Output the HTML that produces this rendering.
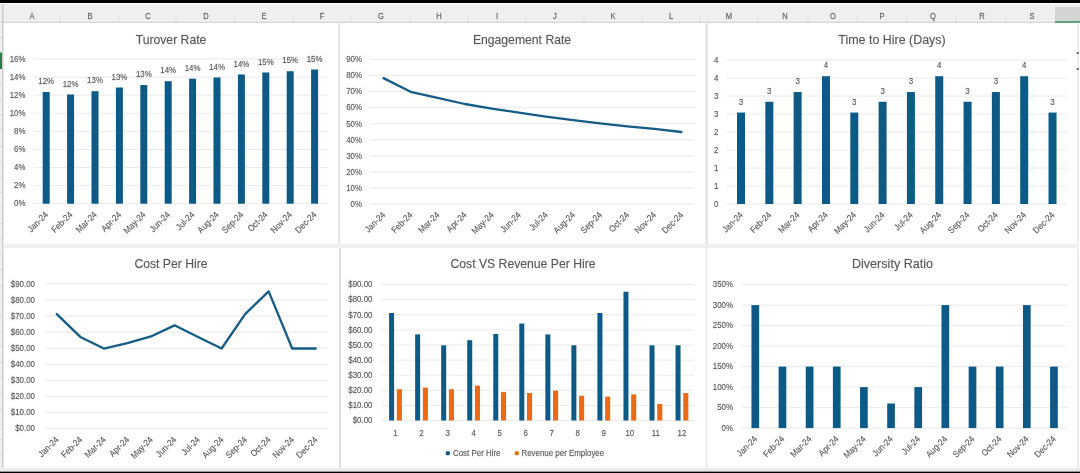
<!DOCTYPE html>
<html lang="en">
<head>
<meta charset="utf-8">
<title>HR Dashboard</title>
<style>
html,body{margin:0;padding:0;background:#fff;}
body{width:1080px;height:473px;overflow:hidden;font-family:"Liberation Sans",sans-serif;}
svg{display:block;}
svg text{stroke:#5a5a5a;stroke-width:.3px;stroke-opacity:.5;}
</style>
</head>
<body>
<svg width="1080" height="473" viewBox="0 0 1080 473" font-family="'Liberation Sans', sans-serif">
<rect x="0" y="0" width="1080" height="473" fill="#ffffff"/>
<defs><filter id="soft" x="0" y="0" width="1080" height="473" filterUnits="userSpaceOnUse"><feGaussianBlur stdDeviation="0.55"/></filter></defs>
<g filter="url(#soft)">
<rect x="0" y="3.8" width="1080" height="18.7" fill="#efefef"/>
<rect x="1055" y="7" width="25" height="14" fill="#d3d5d3"/>
<rect x="1055" y="21" width="25" height="2" fill="#62a07c"/>
<line x1="0" y1="22.3" x2="1055" y2="22.3" stroke="#cfcfcf" stroke-width="1"/>
<text transform="translate(32 19.4) scale(0.86 1)" font-size="8.8" text-anchor="middle" fill="#5e5e5e">A</text>
<text transform="translate(90 19.4) scale(0.86 1)" font-size="8.8" text-anchor="middle" fill="#5e5e5e">B</text>
<text transform="translate(148 19.4) scale(0.86 1)" font-size="8.8" text-anchor="middle" fill="#5e5e5e">C</text>
<text transform="translate(206 19.4) scale(0.86 1)" font-size="8.8" text-anchor="middle" fill="#5e5e5e">D</text>
<text transform="translate(264 19.4) scale(0.86 1)" font-size="8.8" text-anchor="middle" fill="#5e5e5e">E</text>
<text transform="translate(322 19.4) scale(0.86 1)" font-size="8.8" text-anchor="middle" fill="#5e5e5e">F</text>
<text transform="translate(381 19.4) scale(0.86 1)" font-size="8.8" text-anchor="middle" fill="#5e5e5e">G</text>
<text transform="translate(439 19.4) scale(0.86 1)" font-size="8.8" text-anchor="middle" fill="#5e5e5e">H</text>
<text transform="translate(497 19.4) scale(0.86 1)" font-size="8.8" text-anchor="middle" fill="#5e5e5e">I</text>
<text transform="translate(555 19.4) scale(0.86 1)" font-size="8.8" text-anchor="middle" fill="#5e5e5e">J</text>
<text transform="translate(613 19.4) scale(0.86 1)" font-size="8.8" text-anchor="middle" fill="#5e5e5e">K</text>
<text transform="translate(671 19.4) scale(0.86 1)" font-size="8.8" text-anchor="middle" fill="#5e5e5e">L</text>
<text transform="translate(729 19.4) scale(0.86 1)" font-size="8.8" text-anchor="middle" fill="#5e5e5e">M</text>
<text transform="translate(785 19.4) scale(0.86 1)" font-size="8.8" text-anchor="middle" fill="#5e5e5e">N</text>
<text transform="translate(833 19.4) scale(0.86 1)" font-size="8.8" text-anchor="middle" fill="#5e5e5e">O</text>
<text transform="translate(882 19.4) scale(0.86 1)" font-size="8.8" text-anchor="middle" fill="#5e5e5e">P</text>
<text transform="translate(933 19.4) scale(0.86 1)" font-size="8.8" text-anchor="middle" fill="#5e5e5e">Q</text>
<text transform="translate(982 19.4) scale(0.86 1)" font-size="8.8" text-anchor="middle" fill="#5e5e5e">R</text>
<text transform="translate(1032 19.4) scale(0.86 1)" font-size="8.8" text-anchor="middle" fill="#5e5e5e">S</text>
<line x1="60" y1="16.5" x2="60" y2="22.5" stroke="#dcdcdc" stroke-width="1"/>
<line x1="119" y1="16.5" x2="119" y2="22.5" stroke="#dcdcdc" stroke-width="1"/>
<line x1="176" y1="16.5" x2="176" y2="22.5" stroke="#dcdcdc" stroke-width="1"/>
<line x1="235" y1="16.5" x2="235" y2="22.5" stroke="#dcdcdc" stroke-width="1"/>
<line x1="293" y1="16.5" x2="293" y2="22.5" stroke="#dcdcdc" stroke-width="1"/>
<line x1="351" y1="16.5" x2="351" y2="22.5" stroke="#dcdcdc" stroke-width="1"/>
<line x1="410" y1="16.5" x2="410" y2="22.5" stroke="#dcdcdc" stroke-width="1"/>
<line x1="468" y1="16.5" x2="468" y2="22.5" stroke="#dcdcdc" stroke-width="1"/>
<line x1="526" y1="16.5" x2="526" y2="22.5" stroke="#dcdcdc" stroke-width="1"/>
<line x1="584" y1="16.5" x2="584" y2="22.5" stroke="#dcdcdc" stroke-width="1"/>
<line x1="642" y1="16.5" x2="642" y2="22.5" stroke="#dcdcdc" stroke-width="1"/>
<line x1="700" y1="16.5" x2="700" y2="22.5" stroke="#dcdcdc" stroke-width="1"/>
<line x1="758" y1="16.5" x2="758" y2="22.5" stroke="#dcdcdc" stroke-width="1"/>
<line x1="808" y1="16.5" x2="808" y2="22.5" stroke="#dcdcdc" stroke-width="1"/>
<line x1="857" y1="16.5" x2="857" y2="22.5" stroke="#dcdcdc" stroke-width="1"/>
<line x1="907" y1="16.5" x2="907" y2="22.5" stroke="#dcdcdc" stroke-width="1"/>
<line x1="956" y1="16.5" x2="956" y2="22.5" stroke="#dcdcdc" stroke-width="1"/>
<line x1="1006" y1="16.5" x2="1006" y2="22.5" stroke="#dcdcdc" stroke-width="1"/>
<rect x="0" y="22.5" width="2.6" height="448" fill="#f0f0f0"/>
<line x1="2.8" y1="3.8" x2="2.8" y2="468" stroke="#b8b8b8" stroke-width="1"/>
<line x1="0" y1="37.95" x2="2.4" y2="37.95" stroke="#d9d9d9" stroke-width="0.8"/>
<line x1="0" y1="53.4" x2="2.4" y2="53.4" stroke="#d9d9d9" stroke-width="0.8"/>
<line x1="0" y1="68.85" x2="2.4" y2="68.85" stroke="#d9d9d9" stroke-width="0.8"/>
<line x1="0" y1="84.3" x2="2.4" y2="84.3" stroke="#d9d9d9" stroke-width="0.8"/>
<line x1="0" y1="99.75" x2="2.4" y2="99.75" stroke="#d9d9d9" stroke-width="0.8"/>
<line x1="0" y1="115.2" x2="2.4" y2="115.2" stroke="#d9d9d9" stroke-width="0.8"/>
<line x1="0" y1="130.65" x2="2.4" y2="130.65" stroke="#d9d9d9" stroke-width="0.8"/>
<line x1="0" y1="146.1" x2="2.4" y2="146.1" stroke="#d9d9d9" stroke-width="0.8"/>
<line x1="0" y1="161.55" x2="2.4" y2="161.55" stroke="#d9d9d9" stroke-width="0.8"/>
<line x1="0" y1="177" x2="2.4" y2="177" stroke="#d9d9d9" stroke-width="0.8"/>
<line x1="0" y1="192.45" x2="2.4" y2="192.45" stroke="#d9d9d9" stroke-width="0.8"/>
<line x1="0" y1="207.9" x2="2.4" y2="207.9" stroke="#d9d9d9" stroke-width="0.8"/>
<line x1="0" y1="223.35" x2="2.4" y2="223.35" stroke="#d9d9d9" stroke-width="0.8"/>
<line x1="0" y1="238.8" x2="2.4" y2="238.8" stroke="#d9d9d9" stroke-width="0.8"/>
<line x1="0" y1="254.25" x2="2.4" y2="254.25" stroke="#d9d9d9" stroke-width="0.8"/>
<line x1="0" y1="269.7" x2="2.4" y2="269.7" stroke="#d9d9d9" stroke-width="0.8"/>
<line x1="0" y1="285.15" x2="2.4" y2="285.15" stroke="#d9d9d9" stroke-width="0.8"/>
<line x1="0" y1="300.6" x2="2.4" y2="300.6" stroke="#d9d9d9" stroke-width="0.8"/>
<line x1="0" y1="316.05" x2="2.4" y2="316.05" stroke="#d9d9d9" stroke-width="0.8"/>
<line x1="0" y1="331.5" x2="2.4" y2="331.5" stroke="#d9d9d9" stroke-width="0.8"/>
<line x1="0" y1="346.95" x2="2.4" y2="346.95" stroke="#d9d9d9" stroke-width="0.8"/>
<line x1="0" y1="362.4" x2="2.4" y2="362.4" stroke="#d9d9d9" stroke-width="0.8"/>
<line x1="0" y1="377.85" x2="2.4" y2="377.85" stroke="#d9d9d9" stroke-width="0.8"/>
<line x1="0" y1="393.3" x2="2.4" y2="393.3" stroke="#d9d9d9" stroke-width="0.8"/>
<line x1="0" y1="408.75" x2="2.4" y2="408.75" stroke="#d9d9d9" stroke-width="0.8"/>
<line x1="0" y1="424.2" x2="2.4" y2="424.2" stroke="#d9d9d9" stroke-width="0.8"/>
<line x1="0" y1="439.65" x2="2.4" y2="439.65" stroke="#d9d9d9" stroke-width="0.8"/>
<line x1="0" y1="455.1" x2="2.4" y2="455.1" stroke="#d9d9d9" stroke-width="0.8"/>
<rect x="0" y="52.5" width="2" height="16.5" fill="#2f7d50"/>
<rect x="338.3" y="22.5" width="1.5" height="221.5" fill="#dadada"/>
<rect x="339.4" y="248" width="1.5" height="220" fill="#d6d6d6"/>
<rect x="705.6" y="22.5" width="2.2" height="221.5" fill="#e2e2e2"/>
<rect x="705.6" y="248" width="1.8" height="220" fill="#e9e9e9"/>
<line x1="1078" y1="22.5" x2="1078" y2="470" stroke="#d8d8d8" stroke-width="1"/>
<rect x="3.3" y="243.6" width="1075" height="4.5" fill="#f0f0f0"/>
<rect x="0" y="467.8" width="1080" height="3.2" fill="#ebebeb"/>
<rect x="1076.5" y="52" width="2.5" height="2" fill="#777"/>
<rect x="1076.5" y="68" width="2.5" height="2" fill="#777"/>
<text transform="translate(171 43.8) scale(1 1)" font-size="12.2" text-anchor="middle" fill="#5a5a5a">Turover Rate</text>
<line x1="34" y1="203.7" x2="327.5" y2="203.7" stroke="#eaeaea" stroke-width="1"/>
<text transform="translate(25.5 206.47) scale(0.9 1)" font-size="8.8" text-anchor="end" fill="#5a5a5a">0%</text>
<line x1="34" y1="185.61" x2="327.5" y2="185.61" stroke="#eaeaea" stroke-width="1"/>
<text transform="translate(25.5 188.38) scale(0.9 1)" font-size="8.8" text-anchor="end" fill="#5a5a5a">2%</text>
<line x1="34" y1="167.52" x2="327.5" y2="167.52" stroke="#eaeaea" stroke-width="1"/>
<text transform="translate(25.5 170.29) scale(0.9 1)" font-size="8.8" text-anchor="end" fill="#5a5a5a">4%</text>
<line x1="34" y1="149.43" x2="327.5" y2="149.43" stroke="#eaeaea" stroke-width="1"/>
<text transform="translate(25.5 152.2) scale(0.9 1)" font-size="8.8" text-anchor="end" fill="#5a5a5a">6%</text>
<line x1="34" y1="131.34" x2="327.5" y2="131.34" stroke="#eaeaea" stroke-width="1"/>
<text transform="translate(25.5 134.11) scale(0.9 1)" font-size="8.8" text-anchor="end" fill="#5a5a5a">8%</text>
<line x1="34" y1="113.25" x2="327.5" y2="113.25" stroke="#eaeaea" stroke-width="1"/>
<text transform="translate(25.5 116.02) scale(0.9 1)" font-size="8.8" text-anchor="end" fill="#5a5a5a">10%</text>
<line x1="34" y1="95.16" x2="327.5" y2="95.16" stroke="#eaeaea" stroke-width="1"/>
<text transform="translate(25.5 97.93) scale(0.9 1)" font-size="8.8" text-anchor="end" fill="#5a5a5a">12%</text>
<line x1="34" y1="77.07" x2="327.5" y2="77.07" stroke="#eaeaea" stroke-width="1"/>
<text transform="translate(25.5 79.84) scale(0.9 1)" font-size="8.8" text-anchor="end" fill="#5a5a5a">14%</text>
<line x1="34" y1="58.98" x2="327.5" y2="58.98" stroke="#eaeaea" stroke-width="1"/>
<text transform="translate(25.5 61.75) scale(0.9 1)" font-size="8.8" text-anchor="end" fill="#5a5a5a">16%</text>
<rect x="42.7" y="92" width="7" height="111.7" fill="#0c5a87"/>
<text transform="translate(46.2 84.2) scale(0.9 1)" font-size="8.8" text-anchor="middle" fill="#5a5a5a">12%</text>
<rect x="67.1" y="94.5" width="7" height="109.2" fill="#0c5a87"/>
<text transform="translate(70.6 86.7) scale(0.9 1)" font-size="8.8" text-anchor="middle" fill="#5a5a5a">12%</text>
<rect x="91.5" y="91.2" width="7" height="112.5" fill="#0c5a87"/>
<text transform="translate(95 83.4) scale(0.9 1)" font-size="8.8" text-anchor="middle" fill="#5a5a5a">13%</text>
<rect x="115.9" y="87.5" width="7" height="116.2" fill="#0c5a87"/>
<text transform="translate(119.4 79.7) scale(0.9 1)" font-size="8.8" text-anchor="middle" fill="#5a5a5a">13%</text>
<rect x="140.3" y="85" width="7" height="118.7" fill="#0c5a87"/>
<text transform="translate(143.8 77.2) scale(0.9 1)" font-size="8.8" text-anchor="middle" fill="#5a5a5a">13%</text>
<rect x="164.7" y="81.2" width="7" height="122.5" fill="#0c5a87"/>
<text transform="translate(168.2 73.4) scale(0.9 1)" font-size="8.8" text-anchor="middle" fill="#5a5a5a">14%</text>
<rect x="189.1" y="78.7" width="7" height="125" fill="#0c5a87"/>
<text transform="translate(192.6 70.9) scale(0.9 1)" font-size="8.8" text-anchor="middle" fill="#5a5a5a">14%</text>
<rect x="213.5" y="77.5" width="7" height="126.2" fill="#0c5a87"/>
<text transform="translate(217 69.7) scale(0.9 1)" font-size="8.8" text-anchor="middle" fill="#5a5a5a">14%</text>
<rect x="237.9" y="74.5" width="7" height="129.2" fill="#0c5a87"/>
<text transform="translate(241.4 66.7) scale(0.9 1)" font-size="8.8" text-anchor="middle" fill="#5a5a5a">14%</text>
<rect x="262.3" y="72.5" width="7" height="131.2" fill="#0c5a87"/>
<text transform="translate(265.8 64.7) scale(0.9 1)" font-size="8.8" text-anchor="middle" fill="#5a5a5a">15%</text>
<rect x="286.7" y="71.2" width="7" height="132.5" fill="#0c5a87"/>
<text transform="translate(290.2 63.4) scale(0.9 1)" font-size="8.8" text-anchor="middle" fill="#5a5a5a">15%</text>
<rect x="311.1" y="69.5" width="7" height="134.2" fill="#0c5a87"/>
<text transform="translate(314.6 61.7) scale(0.9 1)" font-size="8.8" text-anchor="middle" fill="#5a5a5a">15%</text>
<text transform="translate(48.7 215.2) rotate(-45) scale(0.9 1)" font-size="9" text-anchor="end" fill="#5a5a5a">Jan-24</text>
<text transform="translate(73.1 215.2) rotate(-45) scale(0.9 1)" font-size="9" text-anchor="end" fill="#5a5a5a">Feb-24</text>
<text transform="translate(97.5 215.2) rotate(-45) scale(0.9 1)" font-size="9" text-anchor="end" fill="#5a5a5a">Mar-24</text>
<text transform="translate(121.9 215.2) rotate(-45) scale(0.9 1)" font-size="9" text-anchor="end" fill="#5a5a5a">Apr-24</text>
<text transform="translate(146.3 215.2) rotate(-45) scale(0.9 1)" font-size="9" text-anchor="end" fill="#5a5a5a">May-24</text>
<text transform="translate(170.7 215.2) rotate(-45) scale(0.9 1)" font-size="9" text-anchor="end" fill="#5a5a5a">Jun-24</text>
<text transform="translate(195.1 215.2) rotate(-45) scale(0.9 1)" font-size="9" text-anchor="end" fill="#5a5a5a">Jul-24</text>
<text transform="translate(219.5 215.2) rotate(-45) scale(0.9 1)" font-size="9" text-anchor="end" fill="#5a5a5a">Aug-24</text>
<text transform="translate(243.9 215.2) rotate(-45) scale(0.9 1)" font-size="9" text-anchor="end" fill="#5a5a5a">Sep-24</text>
<text transform="translate(268.3 215.2) rotate(-45) scale(0.9 1)" font-size="9" text-anchor="end" fill="#5a5a5a">Oct-24</text>
<text transform="translate(292.7 215.2) rotate(-45) scale(0.9 1)" font-size="9" text-anchor="end" fill="#5a5a5a">Nov-24</text>
<text transform="translate(317.1 215.2) rotate(-45) scale(0.9 1)" font-size="9" text-anchor="end" fill="#5a5a5a">Dec-24</text>
<text transform="translate(522 43.8) scale(1 1)" font-size="12.2" text-anchor="middle" fill="#5a5a5a">Engagement Rate</text>
<line x1="370" y1="204" x2="695" y2="204" stroke="#eaeaea" stroke-width="1"/>
<text transform="translate(362 206.77) scale(0.9 1)" font-size="8.8" text-anchor="end" fill="#5a5a5a">0%</text>
<line x1="370" y1="187.95" x2="695" y2="187.95" stroke="#eaeaea" stroke-width="1"/>
<text transform="translate(362 190.72) scale(0.9 1)" font-size="8.8" text-anchor="end" fill="#5a5a5a">10%</text>
<line x1="370" y1="171.9" x2="695" y2="171.9" stroke="#eaeaea" stroke-width="1"/>
<text transform="translate(362 174.67) scale(0.9 1)" font-size="8.8" text-anchor="end" fill="#5a5a5a">20%</text>
<line x1="370" y1="155.85" x2="695" y2="155.85" stroke="#eaeaea" stroke-width="1"/>
<text transform="translate(362 158.62) scale(0.9 1)" font-size="8.8" text-anchor="end" fill="#5a5a5a">30%</text>
<line x1="370" y1="139.8" x2="695" y2="139.8" stroke="#eaeaea" stroke-width="1"/>
<text transform="translate(362 142.57) scale(0.9 1)" font-size="8.8" text-anchor="end" fill="#5a5a5a">40%</text>
<line x1="370" y1="123.75" x2="695" y2="123.75" stroke="#eaeaea" stroke-width="1"/>
<text transform="translate(362 126.52) scale(0.9 1)" font-size="8.8" text-anchor="end" fill="#5a5a5a">50%</text>
<line x1="370" y1="107.7" x2="695" y2="107.7" stroke="#eaeaea" stroke-width="1"/>
<text transform="translate(362 110.47) scale(0.9 1)" font-size="8.8" text-anchor="end" fill="#5a5a5a">60%</text>
<line x1="370" y1="91.65" x2="695" y2="91.65" stroke="#eaeaea" stroke-width="1"/>
<text transform="translate(362 94.42) scale(0.9 1)" font-size="8.8" text-anchor="end" fill="#5a5a5a">70%</text>
<line x1="370" y1="75.6" x2="695" y2="75.6" stroke="#eaeaea" stroke-width="1"/>
<text transform="translate(362 78.37) scale(0.9 1)" font-size="8.8" text-anchor="end" fill="#5a5a5a">80%</text>
<line x1="370" y1="59.55" x2="695" y2="59.55" stroke="#eaeaea" stroke-width="1"/>
<text transform="translate(362 62.32) scale(0.9 1)" font-size="8.8" text-anchor="end" fill="#5a5a5a">90%</text>
<polyline points="383.5,78.1 410.58,91.8 437.66,97.9 464.74,104 491.82,108.6 518.9,112.6 545.98,116.7 573.06,120.2 600.14,123.3 627.22,126.3 654.3,128.9 681.38,132" fill="none" stroke="#165c86" stroke-width="2.3" stroke-linejoin="round" stroke-linecap="round"/>
<text transform="translate(386 215.5) rotate(-45) scale(0.9 1)" font-size="9" text-anchor="end" fill="#5a5a5a">Jan-24</text>
<text transform="translate(413.08 215.5) rotate(-45) scale(0.9 1)" font-size="9" text-anchor="end" fill="#5a5a5a">Feb-24</text>
<text transform="translate(440.16 215.5) rotate(-45) scale(0.9 1)" font-size="9" text-anchor="end" fill="#5a5a5a">Mar-24</text>
<text transform="translate(467.24 215.5) rotate(-45) scale(0.9 1)" font-size="9" text-anchor="end" fill="#5a5a5a">Apr-24</text>
<text transform="translate(494.32 215.5) rotate(-45) scale(0.9 1)" font-size="9" text-anchor="end" fill="#5a5a5a">May-24</text>
<text transform="translate(521.4 215.5) rotate(-45) scale(0.9 1)" font-size="9" text-anchor="end" fill="#5a5a5a">Jun-24</text>
<text transform="translate(548.48 215.5) rotate(-45) scale(0.9 1)" font-size="9" text-anchor="end" fill="#5a5a5a">Jul-24</text>
<text transform="translate(575.56 215.5) rotate(-45) scale(0.9 1)" font-size="9" text-anchor="end" fill="#5a5a5a">Aug-24</text>
<text transform="translate(602.64 215.5) rotate(-45) scale(0.9 1)" font-size="9" text-anchor="end" fill="#5a5a5a">Sep-24</text>
<text transform="translate(629.72 215.5) rotate(-45) scale(0.9 1)" font-size="9" text-anchor="end" fill="#5a5a5a">Oct-24</text>
<text transform="translate(656.8 215.5) rotate(-45) scale(0.9 1)" font-size="9" text-anchor="end" fill="#5a5a5a">Nov-24</text>
<text transform="translate(683.88 215.5) rotate(-45) scale(0.9 1)" font-size="9" text-anchor="end" fill="#5a5a5a">Dec-24</text>
<text transform="translate(892 43.8) scale(1 1)" font-size="12.45" text-anchor="middle" fill="#5a5a5a">Time to Hire (Days)</text>
<line x1="726.8" y1="204" x2="1066.7" y2="204" stroke="#eaeaea" stroke-width="1"/>
<text transform="translate(718.5 206.77) scale(0.9 1)" font-size="8.8" text-anchor="end" fill="#5a5a5a">0</text>
<line x1="726.8" y1="186" x2="1066.7" y2="186" stroke="#eaeaea" stroke-width="1"/>
<text transform="translate(718.5 188.77) scale(0.9 1)" font-size="8.8" text-anchor="end" fill="#5a5a5a">1</text>
<line x1="726.8" y1="168" x2="1066.7" y2="168" stroke="#eaeaea" stroke-width="1"/>
<text transform="translate(718.5 170.77) scale(0.9 1)" font-size="8.8" text-anchor="end" fill="#5a5a5a">1</text>
<line x1="726.8" y1="150" x2="1066.7" y2="150" stroke="#eaeaea" stroke-width="1"/>
<text transform="translate(718.5 152.77) scale(0.9 1)" font-size="8.8" text-anchor="end" fill="#5a5a5a">2</text>
<line x1="726.8" y1="132" x2="1066.7" y2="132" stroke="#eaeaea" stroke-width="1"/>
<text transform="translate(718.5 134.77) scale(0.9 1)" font-size="8.8" text-anchor="end" fill="#5a5a5a">2</text>
<line x1="726.8" y1="114" x2="1066.7" y2="114" stroke="#eaeaea" stroke-width="1"/>
<text transform="translate(718.5 116.77) scale(0.9 1)" font-size="8.8" text-anchor="end" fill="#5a5a5a">3</text>
<line x1="726.8" y1="96" x2="1066.7" y2="96" stroke="#eaeaea" stroke-width="1"/>
<text transform="translate(718.5 98.77) scale(0.9 1)" font-size="8.8" text-anchor="end" fill="#5a5a5a">3</text>
<line x1="726.8" y1="78" x2="1066.7" y2="78" stroke="#eaeaea" stroke-width="1"/>
<text transform="translate(718.5 80.77) scale(0.9 1)" font-size="8.8" text-anchor="end" fill="#5a5a5a">4</text>
<line x1="726.8" y1="60" x2="1066.7" y2="60" stroke="#eaeaea" stroke-width="1"/>
<text transform="translate(718.5 62.77) scale(0.9 1)" font-size="8.8" text-anchor="end" fill="#5a5a5a">4</text>
<rect x="737" y="112.56" width="8" height="91.44" fill="#0c5a87"/>
<text transform="translate(741 104.76) scale(0.9 1)" font-size="8.8" text-anchor="middle" fill="#5a5a5a">3</text>
<rect x="765.32" y="101.76" width="8" height="102.24" fill="#0c5a87"/>
<text transform="translate(769.32 93.96) scale(0.9 1)" font-size="8.8" text-anchor="middle" fill="#5a5a5a">3</text>
<rect x="793.64" y="92.04" width="8" height="111.96" fill="#0c5a87"/>
<text transform="translate(797.64 84.24) scale(0.9 1)" font-size="8.8" text-anchor="middle" fill="#5a5a5a">3</text>
<rect x="821.96" y="76.2" width="8" height="127.8" fill="#0c5a87"/>
<text transform="translate(825.96 68.4) scale(0.9 1)" font-size="8.8" text-anchor="middle" fill="#5a5a5a">4</text>
<rect x="850.28" y="112.56" width="8" height="91.44" fill="#0c5a87"/>
<text transform="translate(854.28 104.76) scale(0.9 1)" font-size="8.8" text-anchor="middle" fill="#5a5a5a">3</text>
<rect x="878.6" y="101.76" width="8" height="102.24" fill="#0c5a87"/>
<text transform="translate(882.6 93.96) scale(0.9 1)" font-size="8.8" text-anchor="middle" fill="#5a5a5a">3</text>
<rect x="906.92" y="92.04" width="8" height="111.96" fill="#0c5a87"/>
<text transform="translate(910.92 84.24) scale(0.9 1)" font-size="8.8" text-anchor="middle" fill="#5a5a5a">3</text>
<rect x="935.24" y="76.2" width="8" height="127.8" fill="#0c5a87"/>
<text transform="translate(939.24 68.4) scale(0.9 1)" font-size="8.8" text-anchor="middle" fill="#5a5a5a">4</text>
<rect x="963.56" y="101.76" width="8" height="102.24" fill="#0c5a87"/>
<text transform="translate(967.56 93.96) scale(0.9 1)" font-size="8.8" text-anchor="middle" fill="#5a5a5a">3</text>
<rect x="991.88" y="92.04" width="8" height="111.96" fill="#0c5a87"/>
<text transform="translate(995.88 84.24) scale(0.9 1)" font-size="8.8" text-anchor="middle" fill="#5a5a5a">3</text>
<rect x="1020.2" y="76.2" width="8" height="127.8" fill="#0c5a87"/>
<text transform="translate(1024.2 68.4) scale(0.9 1)" font-size="8.8" text-anchor="middle" fill="#5a5a5a">4</text>
<rect x="1048.52" y="112.56" width="8" height="91.44" fill="#0c5a87"/>
<text transform="translate(1052.52 104.76) scale(0.9 1)" font-size="8.8" text-anchor="middle" fill="#5a5a5a">3</text>
<text transform="translate(743.5 215.5) rotate(-45) scale(0.9 1)" font-size="9" text-anchor="end" fill="#5a5a5a">Jan-24</text>
<text transform="translate(771.82 215.5) rotate(-45) scale(0.9 1)" font-size="9" text-anchor="end" fill="#5a5a5a">Feb-24</text>
<text transform="translate(800.14 215.5) rotate(-45) scale(0.9 1)" font-size="9" text-anchor="end" fill="#5a5a5a">Mar-24</text>
<text transform="translate(828.46 215.5) rotate(-45) scale(0.9 1)" font-size="9" text-anchor="end" fill="#5a5a5a">Apr-24</text>
<text transform="translate(856.78 215.5) rotate(-45) scale(0.9 1)" font-size="9" text-anchor="end" fill="#5a5a5a">May-24</text>
<text transform="translate(885.1 215.5) rotate(-45) scale(0.9 1)" font-size="9" text-anchor="end" fill="#5a5a5a">Jun-24</text>
<text transform="translate(913.42 215.5) rotate(-45) scale(0.9 1)" font-size="9" text-anchor="end" fill="#5a5a5a">Jul-24</text>
<text transform="translate(941.74 215.5) rotate(-45) scale(0.9 1)" font-size="9" text-anchor="end" fill="#5a5a5a">Aug-24</text>
<text transform="translate(970.06 215.5) rotate(-45) scale(0.9 1)" font-size="9" text-anchor="end" fill="#5a5a5a">Sep-24</text>
<text transform="translate(998.38 215.5) rotate(-45) scale(0.9 1)" font-size="9" text-anchor="end" fill="#5a5a5a">Oct-24</text>
<text transform="translate(1026.7 215.5) rotate(-45) scale(0.9 1)" font-size="9" text-anchor="end" fill="#5a5a5a">Nov-24</text>
<text transform="translate(1055.02 215.5) rotate(-45) scale(0.9 1)" font-size="9" text-anchor="end" fill="#5a5a5a">Dec-24</text>
<text transform="translate(171 268) scale(1 1)" font-size="12.2" text-anchor="middle" fill="#5a5a5a">Cost Per Hire</text>
<line x1="45" y1="428.7" x2="327.5" y2="428.7" stroke="#eaeaea" stroke-width="1"/>
<text transform="translate(35 431.47) scale(0.9 1)" font-size="8.8" text-anchor="end" fill="#5a5a5a">$0.00</text>
<line x1="45" y1="412.6" x2="327.5" y2="412.6" stroke="#eaeaea" stroke-width="1"/>
<text transform="translate(35 415.37) scale(0.9 1)" font-size="8.8" text-anchor="end" fill="#5a5a5a">$10.00</text>
<line x1="45" y1="396.5" x2="327.5" y2="396.5" stroke="#eaeaea" stroke-width="1"/>
<text transform="translate(35 399.27) scale(0.9 1)" font-size="8.8" text-anchor="end" fill="#5a5a5a">$20.00</text>
<line x1="45" y1="380.4" x2="327.5" y2="380.4" stroke="#eaeaea" stroke-width="1"/>
<text transform="translate(35 383.17) scale(0.9 1)" font-size="8.8" text-anchor="end" fill="#5a5a5a">$30.00</text>
<line x1="45" y1="364.3" x2="327.5" y2="364.3" stroke="#eaeaea" stroke-width="1"/>
<text transform="translate(35 367.07) scale(0.9 1)" font-size="8.8" text-anchor="end" fill="#5a5a5a">$40.00</text>
<line x1="45" y1="348.2" x2="327.5" y2="348.2" stroke="#eaeaea" stroke-width="1"/>
<text transform="translate(35 350.97) scale(0.9 1)" font-size="8.8" text-anchor="end" fill="#5a5a5a">$50.00</text>
<line x1="45" y1="332.1" x2="327.5" y2="332.1" stroke="#eaeaea" stroke-width="1"/>
<text transform="translate(35 334.87) scale(0.9 1)" font-size="8.8" text-anchor="end" fill="#5a5a5a">$60.00</text>
<line x1="45" y1="316" x2="327.5" y2="316" stroke="#eaeaea" stroke-width="1"/>
<text transform="translate(35 318.77) scale(0.9 1)" font-size="8.8" text-anchor="end" fill="#5a5a5a">$70.00</text>
<line x1="45" y1="299.9" x2="327.5" y2="299.9" stroke="#eaeaea" stroke-width="1"/>
<text transform="translate(35 302.67) scale(0.9 1)" font-size="8.8" text-anchor="end" fill="#5a5a5a">$80.00</text>
<line x1="45" y1="283.8" x2="327.5" y2="283.8" stroke="#eaeaea" stroke-width="1"/>
<text transform="translate(35 286.57) scale(0.9 1)" font-size="8.8" text-anchor="end" fill="#5a5a5a">$90.00</text>
<polyline points="56.8,314.07 80.34,336.93 103.88,348.52 127.42,343.05 150.96,336.45 174.5,325.34 198.04,336.93 221.58,348.52 245.12,314.07 268.66,291.37 292.2,348.52 315.74,348.52" fill="none" stroke="#165c86" stroke-width="2.3" stroke-linejoin="round" stroke-linecap="round"/>
<text transform="translate(59.3 440.2) rotate(-45) scale(0.9 1)" font-size="9" text-anchor="end" fill="#5a5a5a">Jan-24</text>
<text transform="translate(82.84 440.2) rotate(-45) scale(0.9 1)" font-size="9" text-anchor="end" fill="#5a5a5a">Feb-24</text>
<text transform="translate(106.38 440.2) rotate(-45) scale(0.9 1)" font-size="9" text-anchor="end" fill="#5a5a5a">Mar-24</text>
<text transform="translate(129.92 440.2) rotate(-45) scale(0.9 1)" font-size="9" text-anchor="end" fill="#5a5a5a">Apr-24</text>
<text transform="translate(153.46 440.2) rotate(-45) scale(0.9 1)" font-size="9" text-anchor="end" fill="#5a5a5a">May-24</text>
<text transform="translate(177 440.2) rotate(-45) scale(0.9 1)" font-size="9" text-anchor="end" fill="#5a5a5a">Jun-24</text>
<text transform="translate(200.54 440.2) rotate(-45) scale(0.9 1)" font-size="9" text-anchor="end" fill="#5a5a5a">Jul-24</text>
<text transform="translate(224.08 440.2) rotate(-45) scale(0.9 1)" font-size="9" text-anchor="end" fill="#5a5a5a">Aug-24</text>
<text transform="translate(247.62 440.2) rotate(-45) scale(0.9 1)" font-size="9" text-anchor="end" fill="#5a5a5a">Sep-24</text>
<text transform="translate(271.16 440.2) rotate(-45) scale(0.9 1)" font-size="9" text-anchor="end" fill="#5a5a5a">Oct-24</text>
<text transform="translate(294.7 440.2) rotate(-45) scale(0.9 1)" font-size="9" text-anchor="end" fill="#5a5a5a">Nov-24</text>
<text transform="translate(318.24 440.2) rotate(-45) scale(0.9 1)" font-size="9" text-anchor="end" fill="#5a5a5a">Dec-24</text>
<text transform="translate(523 268) scale(1 1)" font-size="12.2" text-anchor="middle" fill="#5a5a5a">Cost VS Revenue Per Hire</text>
<line x1="381" y1="420.5" x2="694" y2="420.5" stroke="#eaeaea" stroke-width="1"/>
<text transform="translate(372.5 423.27) scale(0.9 1)" font-size="8.8" text-anchor="end" fill="#5a5a5a">$0.00</text>
<line x1="381" y1="405.4" x2="694" y2="405.4" stroke="#eaeaea" stroke-width="1"/>
<text transform="translate(372.5 408.17) scale(0.9 1)" font-size="8.8" text-anchor="end" fill="#5a5a5a">$10.00</text>
<line x1="381" y1="390.3" x2="694" y2="390.3" stroke="#eaeaea" stroke-width="1"/>
<text transform="translate(372.5 393.07) scale(0.9 1)" font-size="8.8" text-anchor="end" fill="#5a5a5a">$20.00</text>
<line x1="381" y1="375.2" x2="694" y2="375.2" stroke="#eaeaea" stroke-width="1"/>
<text transform="translate(372.5 377.97) scale(0.9 1)" font-size="8.8" text-anchor="end" fill="#5a5a5a">$30.00</text>
<line x1="381" y1="360.1" x2="694" y2="360.1" stroke="#eaeaea" stroke-width="1"/>
<text transform="translate(372.5 362.87) scale(0.9 1)" font-size="8.8" text-anchor="end" fill="#5a5a5a">$40.00</text>
<line x1="381" y1="345" x2="694" y2="345" stroke="#eaeaea" stroke-width="1"/>
<text transform="translate(372.5 347.77) scale(0.9 1)" font-size="8.8" text-anchor="end" fill="#5a5a5a">$50.00</text>
<line x1="381" y1="329.9" x2="694" y2="329.9" stroke="#eaeaea" stroke-width="1"/>
<text transform="translate(372.5 332.67) scale(0.9 1)" font-size="8.8" text-anchor="end" fill="#5a5a5a">$60.00</text>
<line x1="381" y1="314.8" x2="694" y2="314.8" stroke="#eaeaea" stroke-width="1"/>
<text transform="translate(372.5 317.57) scale(0.9 1)" font-size="8.8" text-anchor="end" fill="#5a5a5a">$70.00</text>
<line x1="381" y1="299.7" x2="694" y2="299.7" stroke="#eaeaea" stroke-width="1"/>
<text transform="translate(372.5 302.47) scale(0.9 1)" font-size="8.8" text-anchor="end" fill="#5a5a5a">$80.00</text>
<line x1="381" y1="284.6" x2="694" y2="284.6" stroke="#eaeaea" stroke-width="1"/>
<text transform="translate(372.5 287.37) scale(0.9 1)" font-size="8.8" text-anchor="end" fill="#5a5a5a">$90.00</text>
<rect x="389.1" y="312.99" width="5" height="107.51" fill="#0c5a87"/>
<rect x="396.8" y="389.24" width="5.1" height="31.26" fill="#ea6a12"/>
<text transform="translate(395.5 435.5) scale(0.9 1)" font-size="8.8" text-anchor="middle" fill="#5a5a5a">1</text>
<rect x="415.14" y="334.43" width="5" height="86.07" fill="#0c5a87"/>
<rect x="422.84" y="387.58" width="5.1" height="32.92" fill="#ea6a12"/>
<text transform="translate(421.54 435.5) scale(0.9 1)" font-size="8.8" text-anchor="middle" fill="#5a5a5a">2</text>
<rect x="441.18" y="345.3" width="5" height="75.2" fill="#0c5a87"/>
<rect x="448.88" y="389.24" width="5.1" height="31.26" fill="#ea6a12"/>
<text transform="translate(447.58 435.5) scale(0.9 1)" font-size="8.8" text-anchor="middle" fill="#5a5a5a">3</text>
<rect x="467.22" y="340.17" width="5" height="80.33" fill="#0c5a87"/>
<rect x="474.92" y="385.62" width="5.1" height="34.88" fill="#ea6a12"/>
<text transform="translate(473.62 435.5) scale(0.9 1)" font-size="8.8" text-anchor="middle" fill="#5a5a5a">4</text>
<rect x="493.26" y="333.98" width="5" height="86.52" fill="#0c5a87"/>
<rect x="500.96" y="392.11" width="5.1" height="28.39" fill="#ea6a12"/>
<text transform="translate(499.66 435.5) scale(0.9 1)" font-size="8.8" text-anchor="middle" fill="#5a5a5a">5</text>
<rect x="519.3" y="323.56" width="5" height="96.94" fill="#0c5a87"/>
<rect x="527" y="393.02" width="5.1" height="27.48" fill="#ea6a12"/>
<text transform="translate(525.7 435.5) scale(0.9 1)" font-size="8.8" text-anchor="middle" fill="#5a5a5a">6</text>
<rect x="545.34" y="334.43" width="5" height="86.07" fill="#0c5a87"/>
<rect x="553.04" y="390.6" width="5.1" height="29.9" fill="#ea6a12"/>
<text transform="translate(551.74 435.5) scale(0.9 1)" font-size="8.8" text-anchor="middle" fill="#5a5a5a">7</text>
<rect x="571.38" y="345.3" width="5" height="75.2" fill="#0c5a87"/>
<rect x="579.08" y="395.74" width="5.1" height="24.76" fill="#ea6a12"/>
<text transform="translate(577.78 435.5) scale(0.9 1)" font-size="8.8" text-anchor="middle" fill="#5a5a5a">8</text>
<rect x="597.42" y="312.99" width="5" height="107.51" fill="#0c5a87"/>
<rect x="605.12" y="396.64" width="5.1" height="23.86" fill="#ea6a12"/>
<text transform="translate(603.82 435.5) scale(0.9 1)" font-size="8.8" text-anchor="middle" fill="#5a5a5a">9</text>
<rect x="623.46" y="291.7" width="5" height="128.8" fill="#0c5a87"/>
<rect x="631.16" y="394.38" width="5.1" height="26.12" fill="#ea6a12"/>
<text transform="translate(629.86 435.5) scale(0.9 1)" font-size="8.8" text-anchor="middle" fill="#5a5a5a">10</text>
<rect x="649.5" y="345.3" width="5" height="75.2" fill="#0c5a87"/>
<rect x="657.2" y="404.04" width="5.1" height="16.46" fill="#ea6a12"/>
<text transform="translate(655.9 435.5) scale(0.9 1)" font-size="8.8" text-anchor="middle" fill="#5a5a5a">11</text>
<rect x="675.54" y="345.3" width="5" height="75.2" fill="#0c5a87"/>
<rect x="683.24" y="393.02" width="5.1" height="27.48" fill="#ea6a12"/>
<text transform="translate(681.94 435.5) scale(0.9 1)" font-size="8.8" text-anchor="middle" fill="#5a5a5a">12</text>
<rect x="445.8" y="451.3" width="4" height="4" fill="#0c5a87" rx="1"/>
<text transform="translate(453 456.1) scale(0.9 1)" font-size="8.8" text-anchor="start" fill="#5a5a5a">Cost Per Hire</text>
<rect x="514.8" y="451.3" width="4" height="4" fill="#ea6a12" rx="1"/>
<text transform="translate(521.5 456.1) scale(0.9 1)" font-size="8.8" text-anchor="start" fill="#5a5a5a">Revenue per Employee</text>
<text transform="translate(892.5 268) scale(1 1)" font-size="12.6" text-anchor="middle" fill="#5a5a5a">Diversity Ratio</text>
<line x1="741.7" y1="428.1" x2="1067.5" y2="428.1" stroke="#eaeaea" stroke-width="1"/>
<text transform="translate(733 430.87) scale(0.9 1)" font-size="8.8" text-anchor="end" fill="#5a5a5a">0%</text>
<line x1="741.7" y1="407.6" x2="1067.5" y2="407.6" stroke="#eaeaea" stroke-width="1"/>
<text transform="translate(733 410.37) scale(0.9 1)" font-size="8.8" text-anchor="end" fill="#5a5a5a">50%</text>
<line x1="741.7" y1="387.1" x2="1067.5" y2="387.1" stroke="#eaeaea" stroke-width="1"/>
<text transform="translate(733 389.87) scale(0.9 1)" font-size="8.8" text-anchor="end" fill="#5a5a5a">100%</text>
<line x1="741.7" y1="366.6" x2="1067.5" y2="366.6" stroke="#eaeaea" stroke-width="1"/>
<text transform="translate(733 369.37) scale(0.9 1)" font-size="8.8" text-anchor="end" fill="#5a5a5a">150%</text>
<line x1="741.7" y1="346.1" x2="1067.5" y2="346.1" stroke="#eaeaea" stroke-width="1"/>
<text transform="translate(733 348.87) scale(0.9 1)" font-size="8.8" text-anchor="end" fill="#5a5a5a">200%</text>
<line x1="741.7" y1="325.6" x2="1067.5" y2="325.6" stroke="#eaeaea" stroke-width="1"/>
<text transform="translate(733 328.37) scale(0.9 1)" font-size="8.8" text-anchor="end" fill="#5a5a5a">250%</text>
<line x1="741.7" y1="305.1" x2="1067.5" y2="305.1" stroke="#eaeaea" stroke-width="1"/>
<text transform="translate(733 307.87) scale(0.9 1)" font-size="8.8" text-anchor="end" fill="#5a5a5a">300%</text>
<line x1="741.7" y1="284.6" x2="1067.5" y2="284.6" stroke="#eaeaea" stroke-width="1"/>
<text transform="translate(733 287.37) scale(0.9 1)" font-size="8.8" text-anchor="end" fill="#5a5a5a">350%</text>
<rect x="751.45" y="305.1" width="7.7" height="123" fill="#0c5a87"/>
<rect x="778.6" y="366.6" width="7.7" height="61.5" fill="#0c5a87"/>
<rect x="805.75" y="366.6" width="7.7" height="61.5" fill="#0c5a87"/>
<rect x="832.9" y="366.6" width="7.7" height="61.5" fill="#0c5a87"/>
<rect x="860.05" y="387.1" width="7.7" height="41" fill="#0c5a87"/>
<rect x="887.2" y="403.5" width="7.7" height="24.6" fill="#0c5a87"/>
<rect x="914.35" y="387.1" width="7.7" height="41" fill="#0c5a87"/>
<rect x="941.5" y="305.1" width="7.7" height="123" fill="#0c5a87"/>
<rect x="968.65" y="366.6" width="7.7" height="61.5" fill="#0c5a87"/>
<rect x="995.8" y="366.6" width="7.7" height="61.5" fill="#0c5a87"/>
<rect x="1022.95" y="305.1" width="7.7" height="123" fill="#0c5a87"/>
<rect x="1050.1" y="366.6" width="7.7" height="61.5" fill="#0c5a87"/>
<text transform="translate(757.8 439.6) rotate(-45) scale(0.9 1)" font-size="9" text-anchor="end" fill="#5a5a5a">Jan-24</text>
<text transform="translate(784.95 439.6) rotate(-45) scale(0.9 1)" font-size="9" text-anchor="end" fill="#5a5a5a">Feb-24</text>
<text transform="translate(812.1 439.6) rotate(-45) scale(0.9 1)" font-size="9" text-anchor="end" fill="#5a5a5a">Mar-24</text>
<text transform="translate(839.25 439.6) rotate(-45) scale(0.9 1)" font-size="9" text-anchor="end" fill="#5a5a5a">Apr-24</text>
<text transform="translate(866.4 439.6) rotate(-45) scale(0.9 1)" font-size="9" text-anchor="end" fill="#5a5a5a">May-24</text>
<text transform="translate(893.55 439.6) rotate(-45) scale(0.9 1)" font-size="9" text-anchor="end" fill="#5a5a5a">Jun-24</text>
<text transform="translate(920.7 439.6) rotate(-45) scale(0.9 1)" font-size="9" text-anchor="end" fill="#5a5a5a">Jul-24</text>
<text transform="translate(947.85 439.6) rotate(-45) scale(0.9 1)" font-size="9" text-anchor="end" fill="#5a5a5a">Aug-24</text>
<text transform="translate(975 439.6) rotate(-45) scale(0.9 1)" font-size="9" text-anchor="end" fill="#5a5a5a">Sep-24</text>
<text transform="translate(1002.15 439.6) rotate(-45) scale(0.9 1)" font-size="9" text-anchor="end" fill="#5a5a5a">Oct-24</text>
<text transform="translate(1029.3 439.6) rotate(-45) scale(0.9 1)" font-size="9" text-anchor="end" fill="#5a5a5a">Nov-24</text>
<text transform="translate(1056.45 439.6) rotate(-45) scale(0.9 1)" font-size="9" text-anchor="end" fill="#5a5a5a">Dec-24</text>
</g>
<rect x="0" y="0" width="1080" height="3" fill="#000000"/>
<rect x="0" y="471.6" width="1080" height="1.4" fill="#000000"/>
</svg>
</body>
</html>
